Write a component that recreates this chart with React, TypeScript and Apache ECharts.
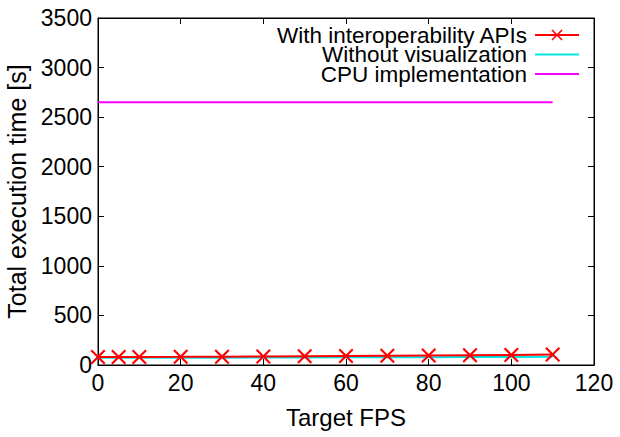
import React, { useEffect, useRef } from "react";
import * as echarts from "echarts";

const fpsInterop = [0, 5, 10, 20, 30, 40, 50, 60, 70, 80, 90, 100, 110];
const timeInterop = [80, 80, 81, 82, 84, 86, 88, 90, 93, 96, 99, 102, 106];
const fpsNoVis = [0, 5, 10, 20, 30, 40, 50, 60, 70, 80, 90, 100, 110];
const timeNoVis = [72, 72, 72, 73, 74, 75, 76, 77, 78, 79, 80, 81, 82];
const fpsCpu = [0, 110];
const timeCpu = [2650, 2650];
const seriesNames = [
  "With interoperability APIs",
  "Without visualization",
  "CPU implementation",
];

const FONT = "Liberation Sans, Arial, sans-serif";
const XMARK =
  "path://M0,1 L1,0 L5,4 L9,0 L10,1 L6,5 L10,9 L9,10 L5,6 L1,10 L0,9 L4,5 Z";

export default function App() {
  const ref = useRef<HTMLDivElement>(null);
  useEffect(() => {
    if (!ref.current) return;
    const chart = echarts.init(ref.current, null, { renderer: "svg" });
    const axisCommon = {
      axisLine: { show: true, onZero: false, lineStyle: { color: "#000", width: 1 } },
      axisTick: { show: true, inside: true, length: 6, lineStyle: { color: "#000" } },
      splitLine: { show: false },
    };
    const labelStyle = {
      fontFamily: FONT,
      fontSize: 23,
      color: "#000",
      margin: 6,
      formatter: (v: number) => String(v),
    };
    const legendTops = [23.5, 43, 62.5];
    const legends = seriesNames.map((name, i) => ({
      orient: "vertical",
      right: 40,
      top: legendTops[i],
      padding: 0,
      align: "right",
      itemWidth: 44,
      itemHeight: 14,
      selectedMode: false,
      textStyle: {
        fontFamily: FONT,
        fontSize: 22.5,
        lineHeight: 19,
        color: "#000",
        padding: [0, 3, 0, 0],
      },
      data: [i === 0 ? { name } : { name, itemStyle: { opacity: 0 } }],
    }));
    chart.setOption({
      animation: false,
      backgroundColor: "#fff",
      textStyle: { fontFamily: FONT },
      grid: {
        show: true,
        borderColor: "#000",
        borderWidth: 1,
        backgroundColor: "transparent",
        left: 98,
        right: 26,
        top: 18,
        bottom: 72,
        containLabel: false,
        outerBoundsMode: "none",
      },
      legend: legends,
      xAxis: [
        {
          type: "value",
          min: 0,
          max: 120,
          interval: 20,
          name: "Target FPS",
          nameLocation: "middle",
          nameGap: 40,
          nameTextStyle: { fontFamily: FONT, fontSize: 24, color: "#000" },
          axisLabel: labelStyle,
          ...axisCommon,
        },
        {
          type: "value",
          position: "top",
          min: 0,
          max: 120,
          interval: 20,
          axisLabel: { show: false },
          ...axisCommon,
        },
      ],
      yAxis: [
        {
          type: "value",
          min: 0,
          max: 3500,
          interval: 500,
          name: "Total execution time [s]",
          nameLocation: "middle",
          nameGap: 60,
          nameTextStyle: { fontFamily: FONT, fontSize: 25, color: "#000" },
          axisLabel: labelStyle,
          ...axisCommon,
        },
        {
          type: "value",
          position: "right",
          min: 0,
          max: 3500,
          interval: 500,
          axisLabel: { show: false },
          ...axisCommon,
        },
      ],
      series: [
        {
          name: seriesNames[0],
          type: "line",
          data: fpsInterop.map((x, i) => [x, timeInterop[i]]),
          symbol: XMARK,
          symbolSize: 15,
          showAllSymbol: true,
          itemStyle: { color: "#ff0000" },
          lineStyle: { color: "#ff0000", width: 2 },
          z: 3,
        },
        {
          name: seriesNames[1],
          type: "line",
          data: fpsNoVis.map((x, i) => [x, timeNoVis[i]]),
          symbol: "none",
          itemStyle: { color: "#00e5e5" },
          lineStyle: { color: "#00e5e5", width: 2 },
          z: 2,
        },
        {
          name: seriesNames[2],
          type: "line",
          data: fpsCpu.map((x, i) => [x, timeCpu[i]]),
          symbol: "none",
          itemStyle: { color: "#ff00ff" },
          lineStyle: { color: "#ff00ff", width: 2 },
        },
        {
          name: "mirror",
          type: "line",
          xAxisIndex: 1,
          yAxisIndex: 1,
          data: [],
          symbol: "none",
          silent: true,
        },
      ],
    });
    return () => chart.dispose();
  }, []);
  return (
    <div
      ref={ref}
      style={{ position: "absolute", left: 0, top: 0, width: 620, height: 437 }}
    />
  );
}
